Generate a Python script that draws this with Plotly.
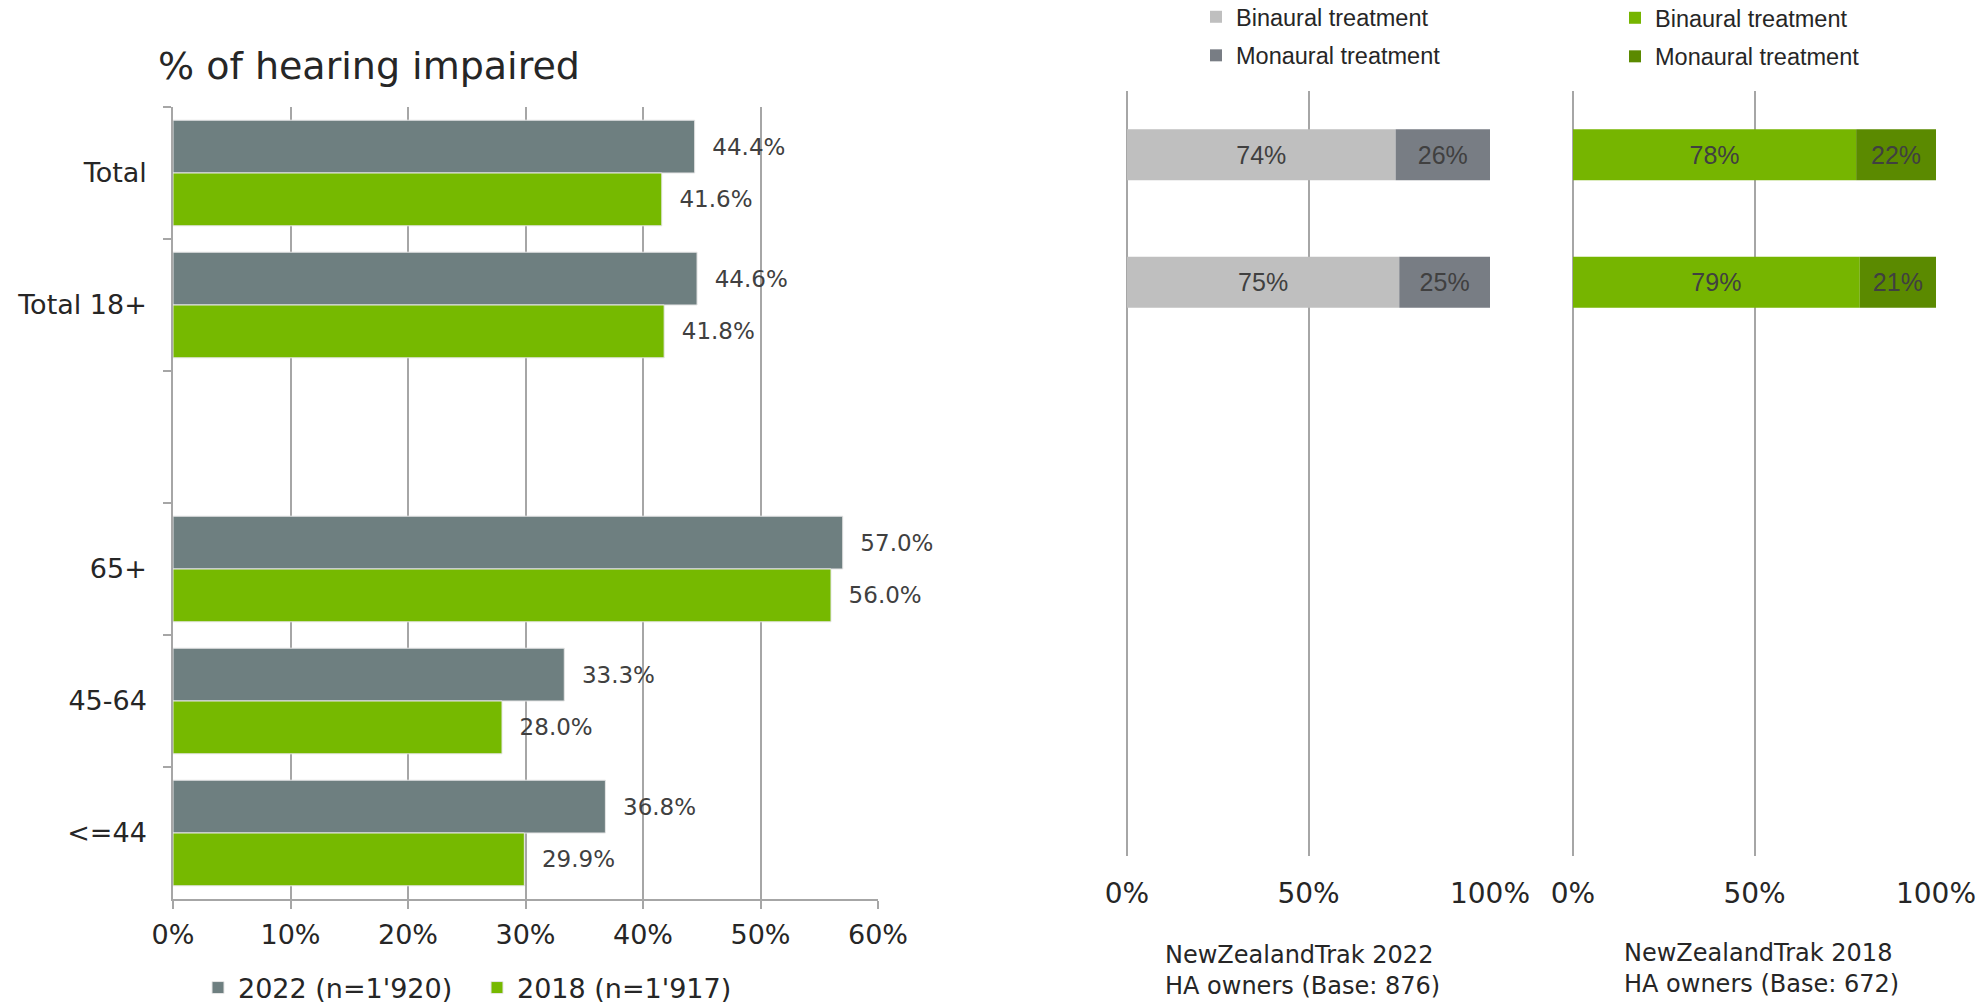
import plotly.graph_objects as go

# ---------------- data ----------------
categories = ["Total", "Total 18+", " ", "65+", "45-64", "<=44"]
v2022 = [44.4, 44.6, None, 57.0, 33.3, 36.8]
v2018 = [41.6, 41.8, None, 56.0, 28.0, 29.9]
series_names = ["2022 (n=1'920)", "2018 (n=1'917)"]

ha_rows = ["Total", "Total 18+"]
binaural_2022 = [74, 75]
monaural_2022 = [26, 25]
binaural_2018 = [78, 79]
monaural_2018 = [22, 21]
treat_names = ["Binaural treatment", "Monaural treatment"]

x_left_ticks = [0, 10, 20, 30, 40, 50, 60]
x_right_ticks = [0, 50, 100]

# ---------------- styles ----------------
W, H = 1983, 1003
C_GRAY = "#6E7F80"
C_GREEN = "#76B900"
C_LGRAY = "#BFBFBF"
C_DGRAY = "#787D84"
C_RGREEN = "#76B500"
C_DGREEN = "#5B8A00"
GRID = "#A6A6A6"
TXT = "#404040"
DARK = "#262626"
MAIN_FONT = "DejaVu Sans"
NARROW_FONT = "Liberation Sans"


def px_x(p):
    return p / W


def px_y(p):
    return 1 - p / H


def fmt(v):
    return "" if v is None else "\u00a0\u00a0" + f"{v:.1f}%"


fig = go.Figure()

# Left grouped bar chart
for vals, name, col in [(v2022, series_names[0], C_GRAY), (v2018, series_names[1], C_GREEN)]:
    fig.add_trace(go.Bar(
        y=categories, x=vals, orientation="h", name=name,
        marker=dict(color=col, line=dict(width=1, color="#E6E6E6")),
        text=[fmt(v) for v in vals], textposition="outside",
        textfont=dict(family=MAIN_FONT, size=23, color=TXT),
        cliponaxis=False, constraintext="none",
        xaxis="x", yaxis="y", legend="legend",
    ))

# Right stacked bars (2022)
inside_font = dict(family=NARROW_FONT, size=25, color=TXT)
fig.add_trace(go.Bar(
    y=ha_rows, x=binaural_2022, orientation="h", name=treat_names[0],
    marker=dict(color=C_LGRAY, line=dict(width=0)), width=0.4, offsetgroup="a",
    text=[f"{v}%" for v in binaural_2022], textposition="inside", insidetextanchor="middle",
    textfont=inside_font, constraintext="none",
    xaxis="x2", yaxis="y2", legend="legend2", legendgroup="b22",
))
fig.add_trace(go.Bar(
    y=ha_rows, x=monaural_2022, base=binaural_2022, orientation="h", name=treat_names[1],
    marker=dict(color=C_DGRAY, line=dict(width=0)), width=0.4, offsetgroup="a",
    text=[f"{v}%" for v in monaural_2022], textposition="inside", insidetextanchor="middle",
    textfont=inside_font, constraintext="none",
    xaxis="x2", yaxis="y2", legend="legend2", legendgroup="m22",
))
# Right stacked bars (2018)
fig.add_trace(go.Bar(
    y=ha_rows, x=binaural_2018, orientation="h", name=treat_names[0],
    marker=dict(color=C_RGREEN, line=dict(width=0)), width=0.4, offsetgroup="a",
    text=[f"{v}%" for v in binaural_2018], textposition="inside", insidetextanchor="middle",
    textfont=inside_font, constraintext="none",
    xaxis="x3", yaxis="y3", legend="legend3", legendgroup="b18",
))
fig.add_trace(go.Bar(
    y=ha_rows, x=monaural_2018, base=binaural_2018, orientation="h", name=treat_names[1],
    marker=dict(color=C_DGREEN, line=dict(width=0)), width=0.4, offsetgroup="a",
    text=[f"{v}%" for v in monaural_2018], textposition="inside", insidetextanchor="middle",
    textfont=inside_font, constraintext="none",
    xaxis="x3", yaxis="y3", legend="legend3", legendgroup="m18",
))

tickfont_l = dict(family=MAIN_FONT, size=27, color=DARK)
tickfont_r = dict(family=MAIN_FONT, size=28, color=DARK)

right_x = dict(range=[0, 100], tickvals=x_right_ticks, ticktext=[f"{t}%" for t in x_right_ticks],
               showgrid=True, gridcolor=GRID, gridwidth=1.5, zeroline=True, zerolinecolor=GRID,
               zerolinewidth=1.5, showline=False, ticks="", tickfont=tickfont_r,
               ticklabelstandoff=18, fixedrange=True)
right_y = dict(type="category", categoryarray=categories, range=[5.5, -0.5],
               showticklabels=False, showgrid=False, zeroline=False, showline=False, ticks="")

fig.update_layout(
    width=W, height=H,
    margin=dict(l=0, r=0, t=0, b=0, autoexpand=False),
    paper_bgcolor="white", plot_bgcolor="white",
    barmode="group", bargap=0.2, bargroupgap=0,
    showlegend=True,
    font=dict(family=MAIN_FONT, color=DARK),
    xaxis=dict(domain=[px_x(173), px_x(878)], range=[0, 60], tickvals=x_left_ticks,
               ticktext=[f"{t}%" for t in x_left_ticks], showgrid=True, gridcolor=GRID,
               gridwidth=1.5, zeroline=False, showline=True, linecolor=GRID, linewidth=1.5,
               ticks="outside", ticklen=8, tickcolor=GRID, tickwidth=1.5,
               tickfont=tickfont_l, ticklabelstandoff=3, anchor="y"),
    yaxis=dict(domain=[px_y(899), px_y(107)], type="category", categoryarray=categories,
               autorange="reversed", showline=True, linecolor=GRID, linewidth=1.5,
               ticks="outside", tickson="boundaries", ticklen=8, tickcolor=GRID, tickwidth=1.5,
               tickfont=tickfont_l, ticklabelstandoff=19, showgrid=False, anchor="x"),
    xaxis2=dict(domain=[px_x(1127), px_x(1490)], anchor="y2", **right_x),
    yaxis2=dict(domain=[px_y(856), px_y(91)], anchor="x2", **right_y),
    xaxis3=dict(domain=[px_x(1573), px_x(1936)], anchor="y3", **right_x),
    yaxis3=dict(domain=[px_y(856), px_y(91)], anchor="x3", **right_y),
    legend=dict(orientation="h", x=px_x(198), xanchor="left", y=px_y(988), yanchor="middle",
                font=dict(family=MAIN_FONT, size=27, color=DARK), bgcolor="rgba(0,0,0,0)",
                entrywidth=234, entrywidthmode="pixels", traceorder="normal"),
    legend2=dict(orientation="v", x=px_x(1196), xanchor="left", y=px_y(-5), yanchor="top",
                 font=dict(family=NARROW_FONT, size=23.5, color=DARK), bgcolor="rgba(0,0,0,0)",
                 tracegroupgap=5, traceorder="grouped"),
    legend3=dict(orientation="v", x=px_x(1615), xanchor="left", y=px_y(-4), yanchor="top",
                 font=dict(family=NARROW_FONT, size=23.5, color=DARK), bgcolor="rgba(0,0,0,0)",
                 tracegroupgap=5, traceorder="grouped"),
    annotations=[
        dict(text="% of hearing impaired", x=px_x(156), y=px_y(66), xref="paper", yref="paper",
             xanchor="left", yanchor="middle", showarrow=False,
             font=dict(family=MAIN_FONT, size=38, color=DARK)),
        dict(text="NewZealandTrak 2022<br>HA owners (Base: 876)", x=px_x(1163), y=px_y(970),
             xref="paper", yref="paper", xanchor="left", yanchor="middle", align="left",
             showarrow=False, font=dict(family=MAIN_FONT, size=24, color=DARK)),
        dict(text="NewZealandTrak 2018<br>HA owners (Base: 672)", x=px_x(1622), y=px_y(968),
             xref="paper", yref="paper", xanchor="left", yanchor="middle", align="left",
             showarrow=False, font=dict(family=MAIN_FONT, size=24, color=DARK)),
    ],
)

fig.write_html(
    "out.html",
    config={"displayModeBar": False},
    post_script="document.body.style.margin='0px';document.body.style.overflow='hidden';",
)
